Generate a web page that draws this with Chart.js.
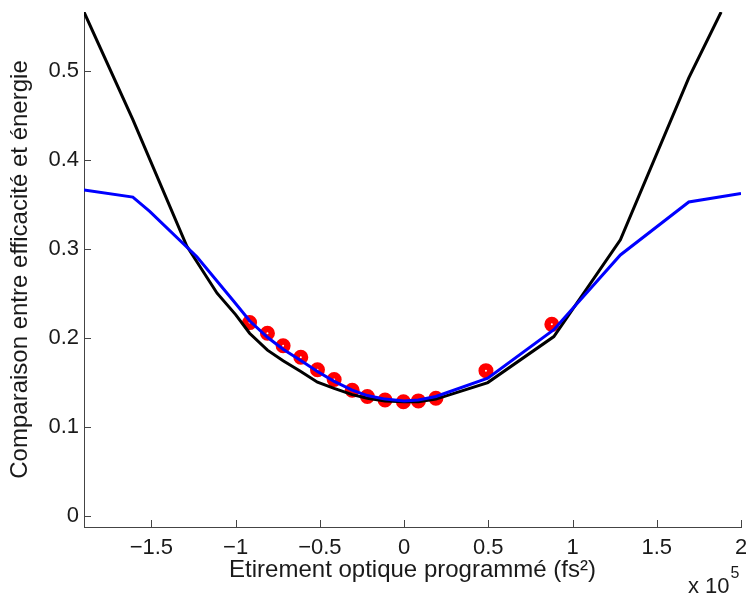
<!DOCTYPE html>
<html>
<head>
<meta charset="utf-8">
<script src="https://cdn.jsdelivr.net/npm/chart.js@4/dist/chart.umd.min.js"></script>
<style>
html,body{margin:0;padding:0;background:#fff;}
canvas{display:block;}
</style>
</head>
<body>
<canvas id="c" width="746" height="596"></canvas>
<script>
// ---- data (x in units of 1e5 fs²) ----
const blackX = [-1.9, -1.61, -1.29, -1.11, -1.0, -0.917, -0.811, -0.718, -0.613, -0.514, -0.415, -0.308, -0.218, -0.113, 0, 0.085, 0.189, 0.497, 0.889, 1.284, 1.69, 1.882];
const blackY = [0.566, 0.445, 0.303, 0.250, 0.226, 0.205, 0.186, 0.174, 0.162, 0.150, 0.143, 0.136, 0.132, 0.129, 0.128, 0.128, 0.131, 0.1496, 0.2013, 0.310, 0.492, 0.566];

const blueX = [-1.9, -1.61, -1.51, -1.23, -1.01, -0.917, -0.811, -0.718, -0.613, -0.514, -0.415, -0.308, -0.218, -0.113, 0, 0.085, 0.189, 0.497, 0.889, 1.284, 1.69, 2.0];
const blueY = [0.366, 0.358, 0.342, 0.291, 0.2407, 0.219, 0.2005, 0.187, 0.1745, 0.162, 0.151, 0.141, 0.135, 0.131, 0.129, 0.130, 0.134, 0.1545, 0.209, 0.293, 0.3525, 0.362];

const redX = [-0.917, -0.811, -0.718, -0.613, -0.514, -0.415, -0.308, -0.218, -0.113, -0.004, 0.085, 0.189, 0.486, 0.877];
const redY = [0.217, 0.205, 0.191, 0.178, 0.164, 0.153, 0.141, 0.134, 0.130, 0.128, 0.129, 0.132, 0.163, 0.215];

const xTicks = [-1.5, -1, -0.5, 0, 0.5, 1, 1.5, 2];
const yTicks = [0, 0.1, 0.2, 0.3, 0.4, 0.5];

const xTitle = 'Etirement optique programmé (fs²)';
const yTitle = 'Comparaison entre efficacité et énergie';
const expBase = 'x 10';
const expPow = '5';

const toPts = (xs, ys) => xs.map((x, i) => ({x: x, y: ys[i]}));
const fmt = v => (v < 0 ? '\u2212' : '') + String(Math.abs(v));

const FONT = 'Liberation Sans, Arial, sans-serif';
const AXIS = '#444444';
const TXT = '#1a1a1a';

const innerTicks = {
  id: 'innerTicks',
  afterDraw(chart) {
    const ctx = chart.ctx;
    const xs = chart.scales.x, ys = chart.scales.y;
    const ca = chart.chartArea;
    ctx.save();
    ctx.strokeStyle = AXIS;
    ctx.lineWidth = 1;
    ctx.beginPath();
    xTicks.forEach(v => {
      const px = Math.round(xs.getPixelForValue(v)) + 0.5;
      ctx.moveTo(px, ca.bottom);
      ctx.lineTo(px, ca.bottom - 7);
    });
    yTicks.forEach(v => {
      const py = Math.round(ys.getPixelForValue(v)) + 0.5;
      ctx.moveTo(ca.left, py);
      ctx.lineTo(ca.left + 7, py);
    });
    ctx.stroke();
    ctx.fillStyle = TXT;
    ctx.textBaseline = 'alphabetic';
    ctx.textAlign = 'left';
    ctx.font = '22px ' + FONT;
    ctx.fillText(expBase, 688, 593);
    const w = ctx.measureText(expBase).width;
    ctx.font = '16px ' + FONT;
    ctx.fillText(expPow, 688 + w + 1, 578);
    ctx.restore();
  }
};

new Chart(document.getElementById('c'), {
  type: 'scatter',
  data: {
    datasets: [
      {
        data: toPts(blueX, blueY), showLine: true, borderColor: '#0000ff', borderWidth: 3,
        pointRadius: 0, fill: false, order: 1
      },
      {
        data: toPts(blackX, blackY), showLine: true, borderColor: '#000000', borderWidth: 3,
        pointRadius: 0, fill: false, order: 2
      },
      {
        data: toPts(redX, redY), showLine: false, borderColor: '#ff0000', backgroundColor: '#ffffff',
        pointRadius: 4.25, borderWidth: 6.5, order: 3
      }
    ]
  },
  options: {
    responsive: false,
    animation: false,
    devicePixelRatio: 1,
    layout: {autoPadding: false, padding: {top: 12, right: 5, left: 0, bottom: 0}},
    plugins: {legend: {display: false}, tooltip: {enabled: false}},
    scales: {
      x: {
        type: 'linear', min: -1.9, max: 2.0,
        afterBuildTicks: s => { s.ticks = xTicks.map(v => ({value: v})); },
        afterFit: s => { s.height = 69; s.paddingLeft = 0; s.paddingRight = 0; },
        grid: {display: false, drawTicks: false},
        border: {display: true, color: AXIS, width: 1},
        ticks: {color: TXT, font: {family: FONT, size: 22}, padding: 8, maxRotation: 0,
                callback: v => fmt(v)},
        title: {display: true, text: xTitle, color: TXT, font: {family: FONT, size: 24},
                padding: {top: 0, bottom: 11}}
      },
      y: {
        type: 'linear', min: -0.0127, max: 0.566,
        afterBuildTicks: s => { s.ticks = yTicks.map(v => ({value: v})); },
        afterFit: s => { s.width = 84; s.paddingTop = 0; s.paddingBottom = 0; },
        grid: {display: false, drawTicks: false},
        border: {display: true, color: AXIS, width: 1},
        ticks: {color: TXT, font: {family: FONT, size: 22}, padding: 5,
                callback: v => fmt(v)},
        title: {display: true, text: yTitle, color: TXT, font: {family: FONT, size: 24},
                padding: {top: 6, bottom: 0}}
      }
    }
  },
  plugins: [innerTicks]
});
</script>
</body>
</html>
